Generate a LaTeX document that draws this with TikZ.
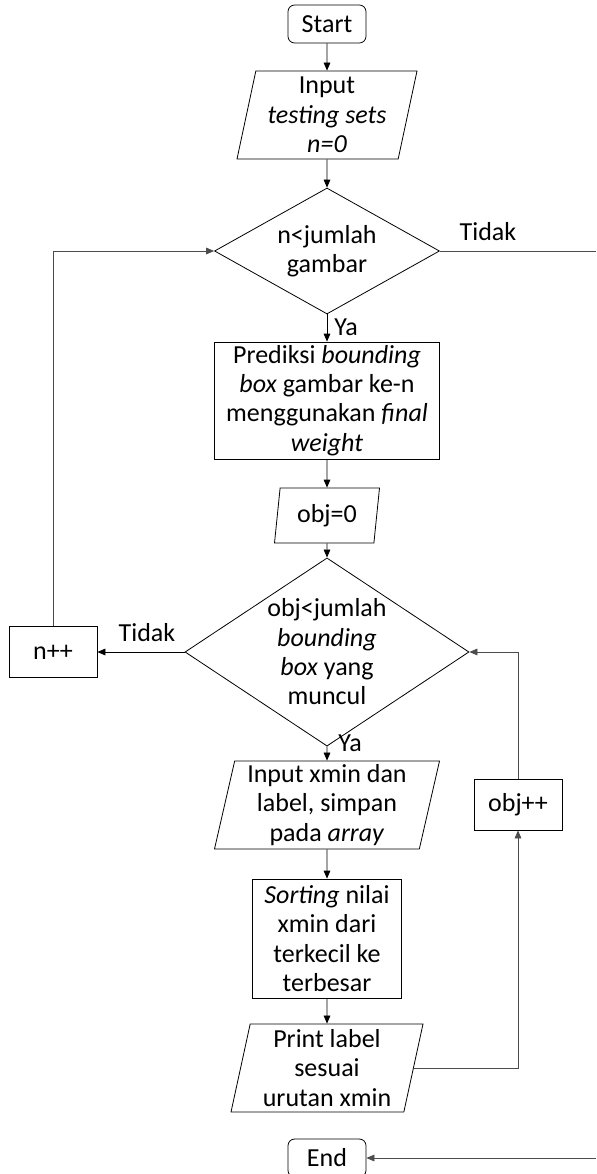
\documentclass[tikz,border=0pt]{standalone}
\usepackage{fontspec}
\setmainfont{Carlito}
\usetikzlibrary{shapes.geometric,arrows.meta}

\tikzset{
  flow/.style={draw,line width=0.6pt,font=\fontsize{19.5}{22}\selectfont,align=center},
  terminal/.style={flow,rectangle,rounded corners=5pt,minimum width=58.5pt,minimum height=28.5pt,inner sep=0pt},
  process/.style={flow,rectangle,inner sep=0pt},
  inout/.style={flow,trapezium,trapezium left angle=76,trapezium right angle=104,trapezium stretches body,inner sep=0pt},
  decision/.style={flow,diamond,inner sep=-7pt},
  lbl/.style={font=\fontsize{19.5}{22}\selectfont},
  arr/.style={-{Triangle[length=6pt,width=5pt]},line width=0.6pt},
  loopline/.style={line width=0.6pt,draw=black!70},
}

\begin{document}
\begin{tikzpicture}[x=0.75pt,y=0.75pt,yscale=-1,xscale=1]
  \useasboundingbox (0,0) rectangle (596,1174);
  % main column
  \node[terminal] (start) at (327,24) {Start};
  \node[inout,minimum width=135pt,minimum height=66pt] (input) at (327,115) {Input\\\textit{testing sets}\\\textit{n=0}};
  \node[decision,minimum width=168.75pt,minimum height=94.5pt] (cond1) at (327,251) {n<jumlah\\gambar};
  \node[process,minimum width=168.75pt,minimum height=87.75pt] (predict) at (327,400.5) {Prediksi \textit{bounding}\\\textit{box} gambar ke-n\\menggunakan \textit{final}\\\textit{weight}};
  \node[inout,minimum width=78.75pt,minimum height=41.25pt] (obj0) at (327,515.5) {obj=0};
  \node[decision,minimum width=213pt,minimum height=120pt] (cond2) at (327,652) {obj<jumlah\\\textit{bounding}\\\textit{box} yang\\muncul};
  \node[inout,minimum width=168.75pt,minimum height=66pt] (inxmin) at (327,805) {Input xmin dan\\label, simpan\\pada \textit{array}};
  \node[process,minimum width=111.75pt,minimum height=89.25pt] (sorting) at (327,938.5) {\textit{Sorting} nilai\\xmin dari\\terkecil ke\\terbesar};
  \node[inout,minimum width=144pt,minimum height=66pt] (printlbl) at (327,1068) {Print label\\sesuai\\urutan xmin};
  \node[terminal] (end) at (327,1158) {End};
  % side boxes
  \node[process,minimum width=66pt,minimum height=38.25pt] (nplus) at (53,652) {n++};
  \node[process,minimum width=66pt,minimum height=38.25pt] (objplus) at (518,804.5) {obj++};
  % labels
  \node[lbl] (tidak1) at (488,232) {Tidak};
  \node[lbl] (ya1) at (346,327) {Ya};
  \node[lbl] (tidak2) at (147,633) {Tidak};
  \node[lbl] (ya2) at (350,743) {Ya};
  \coordinate (exitR) at (596,251);
  \coordinate (endR) at (596,1158);
  % connectors
  \draw[arr] (start) -- (input);
  \draw[arr] (input) -- (cond1);
  \draw[arr] (cond1) -- (predict);
  \draw[arr] (predict) -- (obj0);
  \draw[arr] (obj0) -- (cond2);
  \draw[arr] (cond2) -- (inxmin);
  \draw[arr] (inxmin) -- (sorting);
  \draw[arr] (sorting) -- (printlbl);
  \draw[arr] (cond2.west) -- (nplus.east);
  \draw[arr,loopline] (nplus.north) |- (cond1.west);
  \draw[loopline] (cond1.east) -- (exitR);
  \draw[arr,loopline] (printlbl.east) -| (objplus.south);
  \draw[arr,loopline] (objplus.north) |- (cond2.east);
  \draw[arr,loopline] (endR) -- (end.east);
\end{tikzpicture}
\end{document}
